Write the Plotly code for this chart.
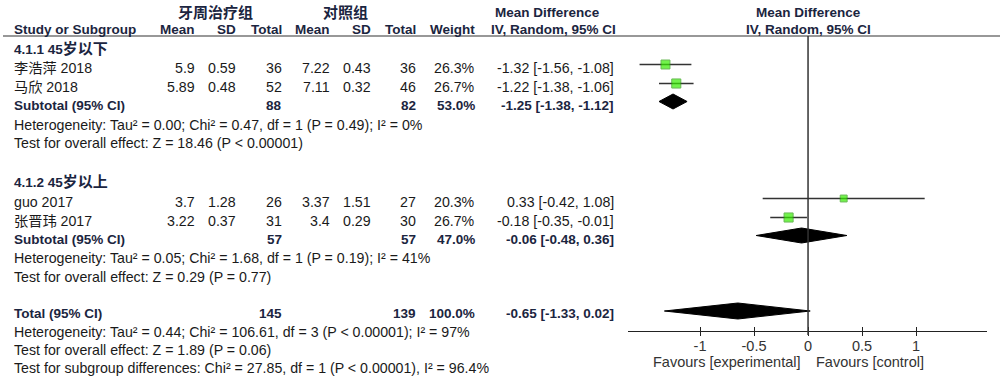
import plotly.graph_objects as go

# ---------------- data ----------------
group_titles = ["4.1.1 45岁以下", "4.1.2 45岁以上"]
studies = ["李浩萍 2018", "马欣 2018", "guo 2017", "张晋玮 2017"]
exp_mean = [5.9, 5.89, 3.7, 3.22]
exp_sd = [0.59, 0.48, 1.28, 0.37]
exp_n = [36, 52, 26, 31]
ctl_mean = [7.22, 7.11, 3.37, 3.4]
ctl_sd = [0.43, 0.32, 1.51, 0.29]
ctl_n = [36, 46, 27, 30]
weight = [26.3, 26.7, 20.3, 26.7]
md = [-1.32, -1.22, 0.33, -0.18]
md_lo = [-1.56, -1.38, -0.42, -0.35]
md_hi = [-1.08, -1.06, 1.08, -0.01]

sub_exp_n = [88, 57]
sub_ctl_n = [82, 57]
sub_weight = [53.0, 47.0]
sub_md = [-1.25, -0.06]
sub_lo = [-1.38, -0.48]
sub_hi = [-1.12, 0.36]
sub_het = ["Heterogeneity: Tau² = 0.00; Chi² = 0.47, df = 1 (P = 0.49); I² = 0%",
           "Heterogeneity: Tau² = 0.05; Chi² = 1.68, df = 1 (P = 0.19); I² = 41%"]
sub_test = ["Test for overall effect: Z = 18.46 (P < 0.00001)",
            "Test for overall effect: Z = 0.29 (P = 0.77)"]

tot_exp_n = 145
tot_ctl_n = 139
tot_weight = 100.0
tot_md = -0.65
tot_lo = -1.33
tot_hi = 0.02
tot_notes = ["Heterogeneity: Tau² = 0.44; Chi² = 106.61, df = 3 (P < 0.00001); I² = 97%",
             "Test for overall effect: Z = 1.89 (P = 0.06)",
             "Test for subgroup differences: Chi² = 27.85, df = 1 (P < 0.00001), I² = 96.4%"]

tick_vals = [-1, -0.5, 0, 0.5, 1]
tick_text = ["-1", "-0.5", "0", "0.5", "1"]
favours = ["Favours [experimental]", "Favours [control]"]

# ---------------- layout ----------------
W, H = 1000, 383
FONT = "Liberation Sans, Arial, Noto Sans CJK SC, sans-serif"
FS = 14.2
FSB = 13.5
C_TXT = "#1a1a1a"
C_HDR = "#1b2540"

# row centres (pixels from top)
y_h1, y_h2, y_line = 12, 29, 36
y_gt = [48, 181]
y_study = [68, 87, 202, 221]
y_sub = [105, 239]
y_het = [125, 258]
y_test = [143, 277]
y_tot = 313
y_totnotes = [332, 350, 368]
y_axis = 331
mark_dy = -3.5

# column right edges
x_left = 12
x_em, x_esd, x_en = 197, 238, 284
x_cm, x_csd, x_cn = 332, 373, 418
x_w, x_ci = 477, 616

ann = []


def cjk_big(s, size=15):
    out = ""
    for ch in s:
        if ord(ch) > 0x2E80:
            out += f"<span style='font-size:{size}px'>{ch}</span>"
        else:
            out += ch
    return out


def txt(x, y, s, anchor="left", bold=False, color=None, size=None):
    if size is None:
        size = FSB if bold else FS
    if bold:
        s = cjk_big(s)
    ann.append(dict(x=x / W, y=y, xref="paper", yref="y", text=f"<b>{s}</b>" if bold else s,
                    showarrow=False, xanchor=anchor, yanchor="middle",
                    font=dict(family=FONT, size=size, color=color or (C_HDR if bold else C_TXT))))


def ci(m, l, h):
    return f"{m:.2f} [{l:.2f}, {h:.2f}]"


# headers
txt(215, y_h1, "牙周治疗组", "center", True)
txt(345, y_h1, "对照组", "center", True)
txt(547, y_h1, "Mean Difference", "center", True)
txt(808, y_h1, "Mean Difference", "center", True)
txt(x_left, y_h2, "Study or Subgroup", "left", True)
for x, s in [(x_em, "Mean"), (x_esd, "SD"), (x_en, "Total"), (x_cm, "Mean"),
             (x_csd, "SD"), (x_cn, "Total"), (x_w, "Weight")]:
    txt(x, y_h2, s, "right", True)
txt(553, y_h2, "IV, Random, 95% CI", "center", True)
txt(808, y_h2, "IV, Random, 95% CI", "center", True)

for g in range(2):
    txt(x_left, y_gt[g], group_titles[g], "left", True)
    txt(x_left, y_sub[g], "Subtotal (95% CI)", "left", True)
    txt(x_en, y_sub[g], str(sub_exp_n[g]), "right", True)
    txt(x_cn, y_sub[g], str(sub_ctl_n[g]), "right", True)
    txt(x_w, y_sub[g], f"{sub_weight[g]:.1f}%", "right", True)
    txt(x_ci, y_sub[g], ci(sub_md[g], sub_lo[g], sub_hi[g]), "right", True)
    txt(x_left, y_het[g], sub_het[g])
    txt(x_left, y_test[g], sub_test[g])

for i, s in enumerate(studies):
    y = y_study[i]
    txt(x_left, y, s)
    txt(x_em, y, f"{exp_mean[i]:g}", "right")
    txt(x_esd, y, f"{exp_sd[i]:g}", "right")
    txt(x_en, y, str(exp_n[i]), "right")
    txt(x_cm, y, f"{ctl_mean[i]:g}", "right")
    txt(x_csd, y, f"{ctl_sd[i]:g}", "right")
    txt(x_cn, y, str(ctl_n[i]), "right")
    txt(x_w, y, f"{weight[i]:.1f}%", "right")
    txt(x_ci, y, ci(md[i], md_lo[i], md_hi[i]), "right")

txt(x_left, y_tot, "Total (95% CI)", "left", True)
txt(x_en, y_tot, str(tot_exp_n), "right", True)
txt(x_cn, y_tot, str(tot_ctl_n), "right", True)
txt(x_w, y_tot, f"{tot_weight:.1f}%", "right", True)
txt(x_ci, y_tot, ci(tot_md, tot_lo, tot_hi), "right", True)
for y, s in zip(y_totnotes, tot_notes):
    txt(x_left, y, s)

txt(802, 362, favours[0], "right", False, "#333333", 14.5)
txt(814, 362, favours[1], "left", False, "#333333", 14.5)

fig = go.Figure()

# CI lines
lx, ly = [], []
for i in range(len(studies)):
    yy = y_study[i] + mark_dy
    lx += [md_lo[i], md_hi[i], None]
    ly += [yy, yy, None]
fig.add_trace(go.Scatter(x=lx, y=ly, mode="lines", line=dict(color="#333333", width=1.4),
                         hoverinfo="skip", showlegend=False))
# squares
fig.add_trace(go.Scatter(x=md, y=[y + mark_dy for y in y_study], mode="markers",
                         marker=dict(symbol="square", size=[w * 0.34 for w in weight],
                                     color="#36ee00", line=dict(color="#2c9c10", width=1)),
                         hoverinfo="skip", showlegend=False))


# diamonds
def diamond(m, l, h, yc, hh=8):
    fig.add_trace(go.Scatter(x=[l, m, h, m, l], y=[yc, yc - hh, yc, yc + hh, yc], mode="lines",
                             fill="toself", fillcolor="#000000", line=dict(color="#000000", width=1),
                             hoverinfo="skip", showlegend=False))


for g in range(2):
    diamond(sub_md[g], sub_lo[g], sub_hi[g], y_sub[g] - 3.5, 7.5)
diamond(tot_md, tot_lo, tot_hi, y_tot - 2, 8)

# zero line
fig.add_shape(type="line", xref="x", yref="y", x0=0, x1=0, y0=y_line, y1=y_axis + 4,
              line=dict(color="#333333", width=1.5))
# header rule
fig.add_shape(type="line", xref="paper", yref="y", x0=0.003, x1=1, y0=y_line, y1=y_line,
              line=dict(color="#333333", width=1.2))

x0p, x1p = 628, 987
axis_pos = (H - y_axis) / H
fig.update_layout(
    width=W, height=H, margin=dict(l=0, r=0, t=0, b=0),
    paper_bgcolor="white", plot_bgcolor="rgba(0,0,0,0)",
    annotations=ann,
    xaxis=dict(domain=[x0p / W, x1p / W], range=[-1.667, 1.657], anchor="free", position=axis_pos,
               showline=True, linecolor="#222222", linewidth=1.3, showgrid=False, zeroline=False,
               tickvals=tick_vals, ticktext=tick_text, ticks="inside", ticklen=4,
               tickcolor="#222222", tickwidth=1.3, ticklabelstandoff=1,
               tickfont=dict(family=FONT, size=14.5, color="#333333")),
    xaxis3=dict(overlaying="x", matches="x", anchor="free", position=axis_pos,
                showline=False, showgrid=False, zeroline=False,
                tickvals=tick_vals, ticks="outside", ticklen=4, tickcolor="#222222", tickwidth=1.3,
                showticklabels=False),
    yaxis=dict(domain=[0, 1], range=[H, 0], visible=False),
)
fig.add_trace(go.Scatter(x=[None], y=[None], xaxis="x3", showlegend=False, hoverinfo="skip"))

fig.write_html("out.html", config={"displayModeBar": False},
               post_script="document.body.style.margin='0';")
